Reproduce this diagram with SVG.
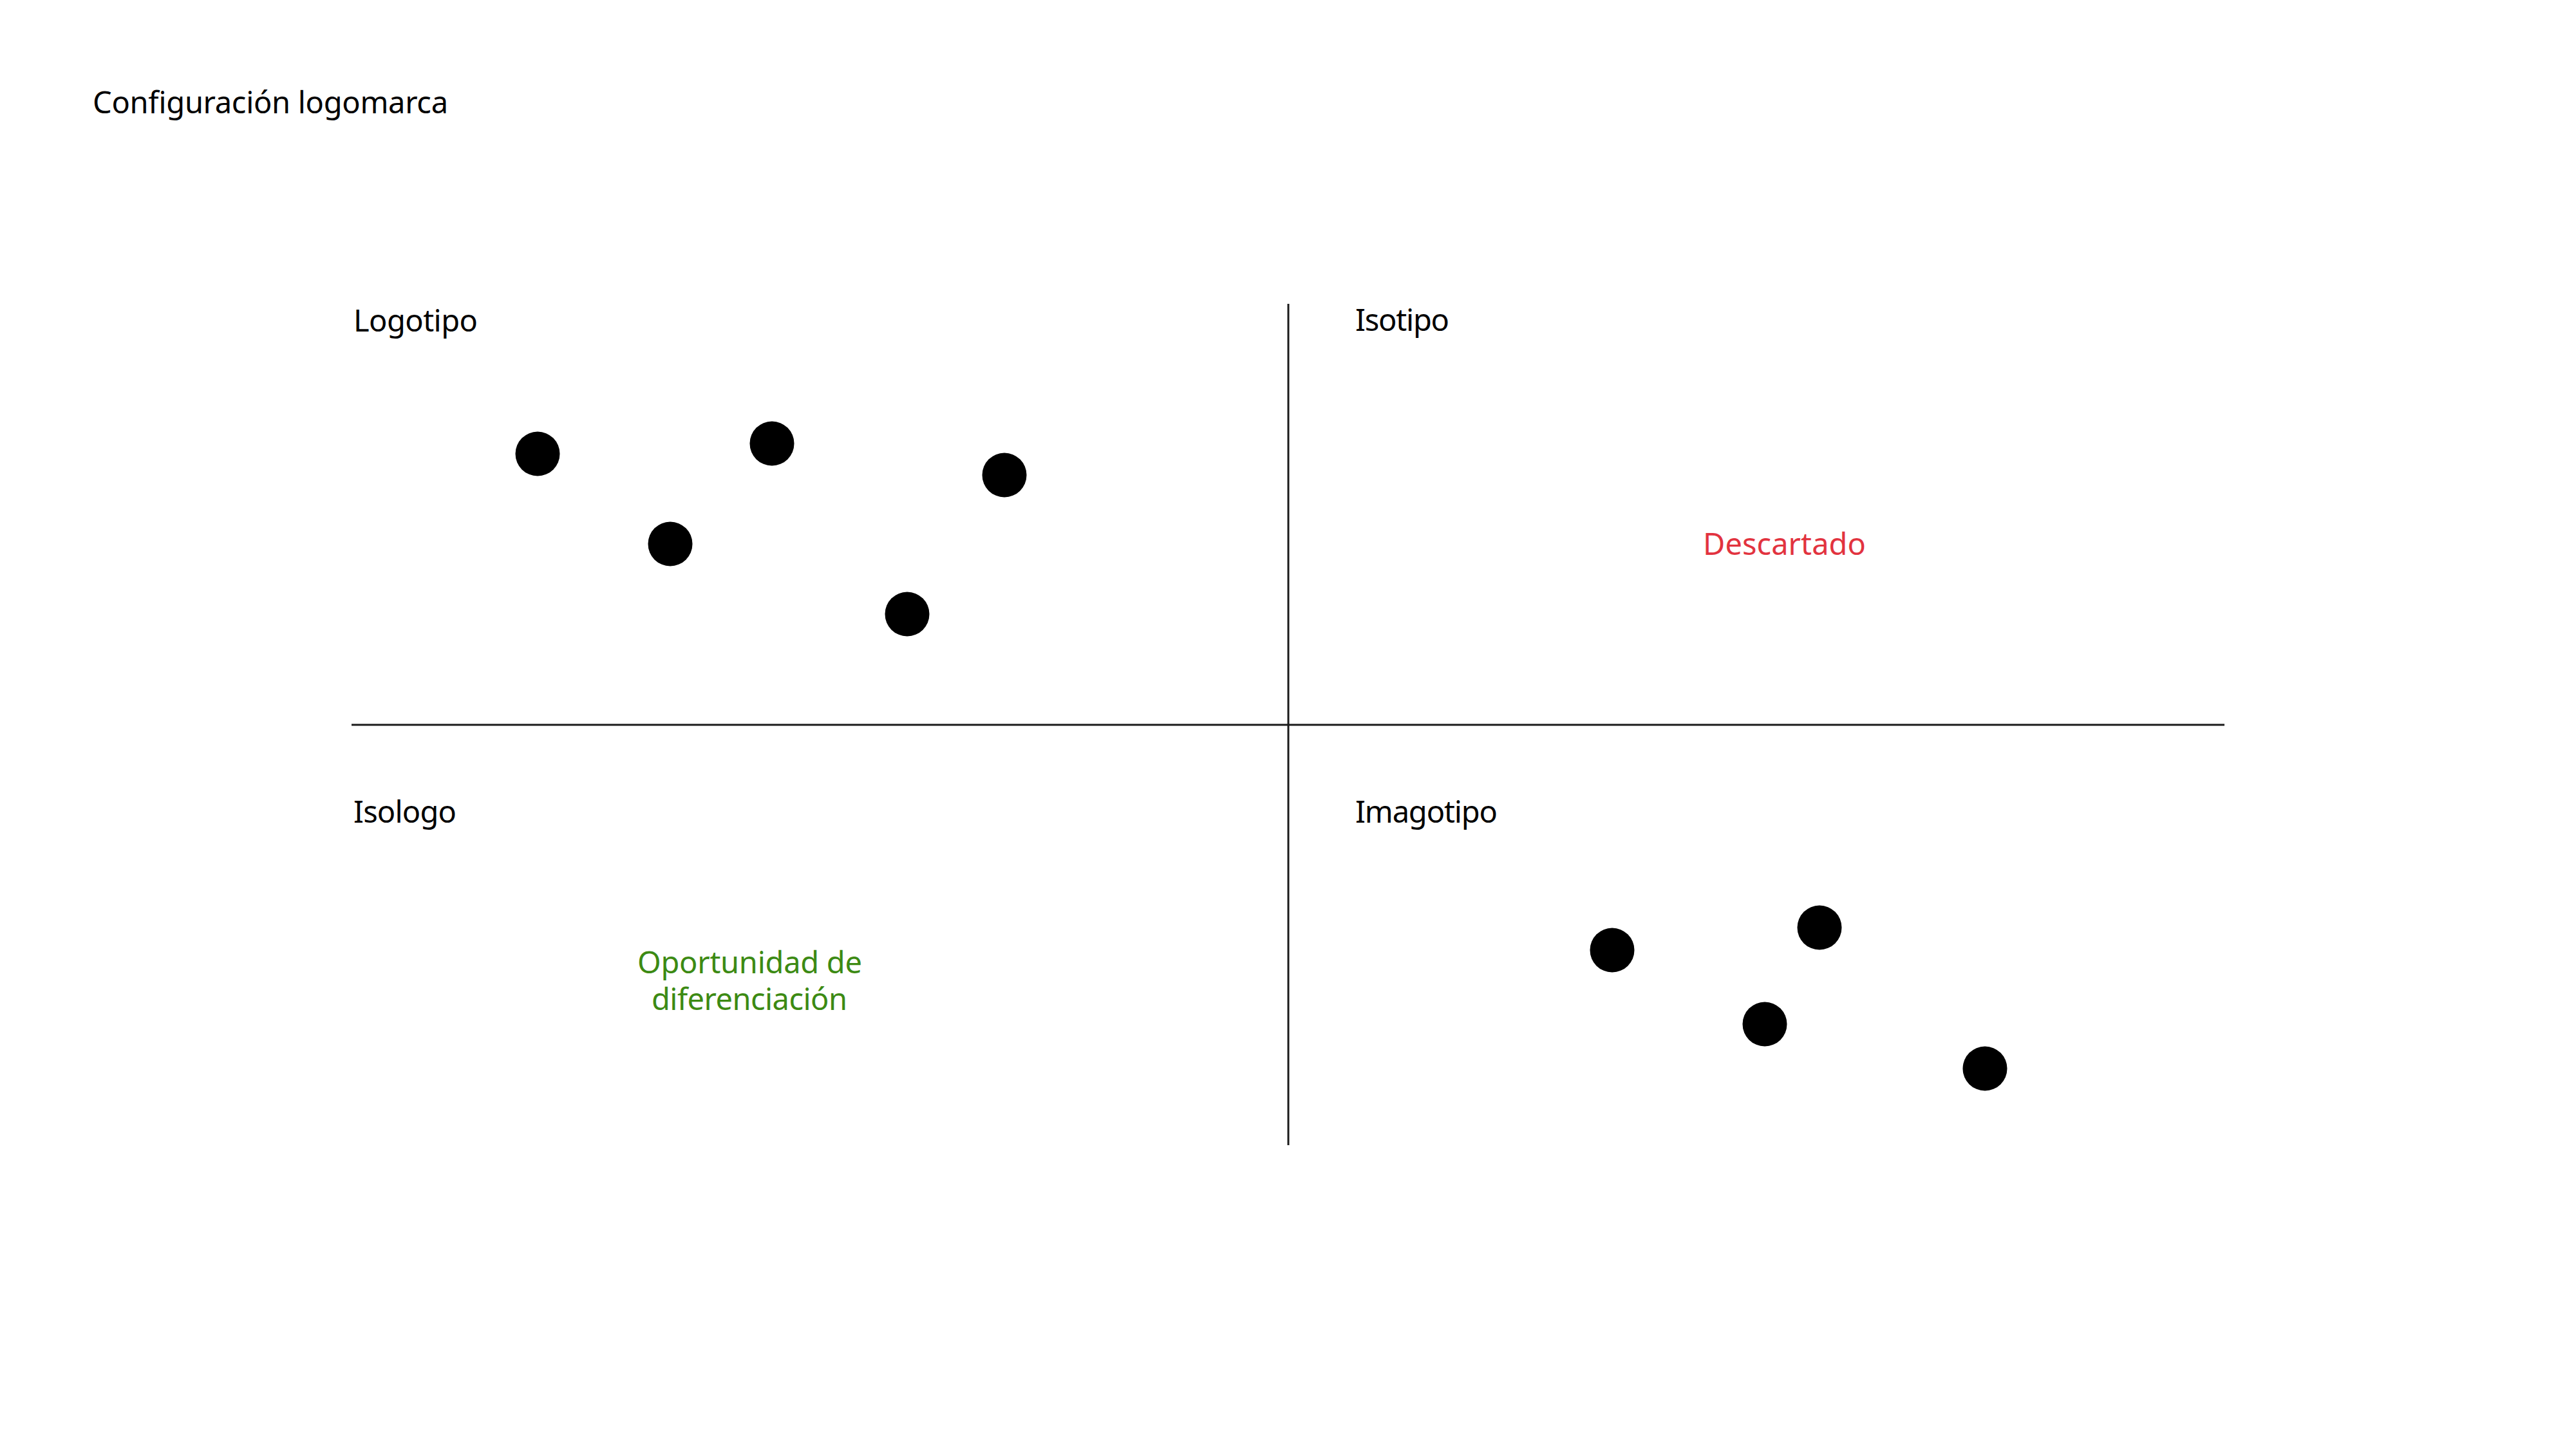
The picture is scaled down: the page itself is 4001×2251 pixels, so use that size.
<svg xmlns="http://www.w3.org/2000/svg" width="4001" height="2251" viewBox="0 0 4001 2251">
<style>
text{font-family:"Noto Sans","Open Sans","DejaVu Sans",sans-serif;font-size:47px;fill:#000}
.red{fill:#E2333F}
.green{fill:#3C8A13}
.axis{stroke:#1a1a1a;stroke-width:3;fill:none}
.dot{fill:#000}
</style>
<rect width="4001" height="2251" fill="#fff"/>
<g id="title"><text x="144" y="176" textLength="552">Configuración logomarca</text></g>
<g id="axes">
<line class="axis" x1="2001" y1="472" x2="2001" y2="1779"/>
<line class="axis" x1="546" y1="1126" x2="3455" y2="1126"/>
</g>
<g id="q-logotipo"><text x="549" y="515" textLength="193">Logotipo</text></g>
<g id="q-isotipo"><text x="2105" y="514" textLength="146">Isotipo</text></g>
<g id="q-isologo"><text x="549" y="1278" textLength="160">Isologo</text></g>
<g id="q-imagotipo"><text x="2105" y="1278" textLength="221">Imagotipo</text></g>
<g id="descartado"><text class="red" x="2645" y="862" textLength="253">Descartado</text></g>
<g id="oportunidad"><text class="green"><tspan x="990" y="1512" textLength="349">Oportunidad de</tspan><tspan x="1012" y="1569" textLength="304">diferenciación</tspan></text></g>
<g id="dots">
<circle class="dot" cx="835" cy="705" r="34.5"/>
<circle class="dot" cx="1199" cy="689" r="34.5"/>
<circle class="dot" cx="1560" cy="738" r="34.5"/>
<circle class="dot" cx="1041" cy="845" r="34.5"/>
<circle class="dot" cx="1409" cy="954" r="34.5"/>
<circle class="dot" cx="2504" cy="1476" r="34.5"/>
<circle class="dot" cx="2826" cy="1441" r="34.5"/>
<circle class="dot" cx="2741" cy="1591" r="34.5"/>
<circle class="dot" cx="3083" cy="1660" r="34.5"/>
</g>
</svg>
